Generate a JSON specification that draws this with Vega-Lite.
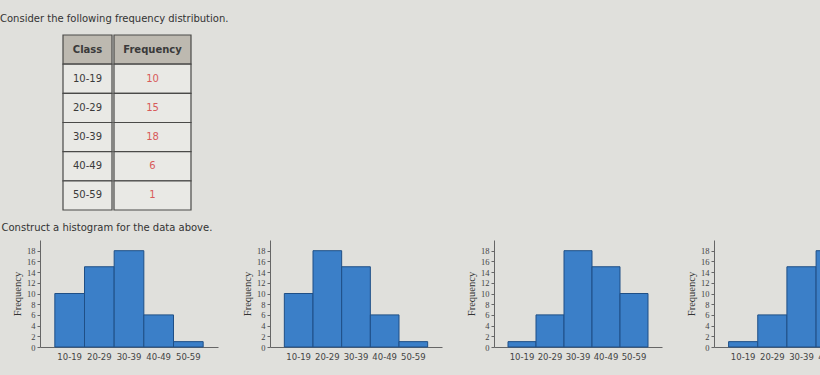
{
  "$schema": "https://vega.github.io/schema/vega-lite/v6.json",
  "background": "#e0e0dc",
  "padding": {"left": 0, "top": 14, "right": 0, "bottom": 24},
  "config": {
    "view": {"stroke": null},
    "title": {"font": "DejaVu Sans", "fontSize": 10, "fontWeight": "normal", "color": "#333333", "anchor": "start"},
    "axis": {"grid": false}
  },
  "datasets": {
    "table": [
      {"row": "header", "col": "Class", "label": "Class", "kind": "header"},
      {"row": "header", "col": "Frequency", "label": "Frequency", "kind": "header"},
      {"row": "r1", "col": "Class", "label": "10-19", "kind": "body"},
      {"row": "r1", "col": "Frequency", "label": "10", "kind": "body"},
      {"row": "r2", "col": "Class", "label": "20-29", "kind": "body"},
      {"row": "r2", "col": "Frequency", "label": "15", "kind": "body"},
      {"row": "r3", "col": "Class", "label": "30-39", "kind": "body"},
      {"row": "r3", "col": "Frequency", "label": "18", "kind": "body"},
      {"row": "r4", "col": "Class", "label": "40-49", "kind": "body"},
      {"row": "r4", "col": "Frequency", "label": "6", "kind": "body"},
      {"row": "r5", "col": "Class", "label": "50-59", "kind": "body"},
      {"row": "r5", "col": "Frequency", "label": "1", "kind": "body"}
    ],
    "hist": [
      {"option": 1, "cls": "10-19", "freq": 10},
      {"option": 1, "cls": "20-29", "freq": 15},
      {"option": 1, "cls": "30-39", "freq": 18},
      {"option": 1, "cls": "40-49", "freq": 6},
      {"option": 1, "cls": "50-59", "freq": 1},
      {"option": 2, "cls": "10-19", "freq": 10},
      {"option": 2, "cls": "20-29", "freq": 18},
      {"option": 2, "cls": "30-39", "freq": 15},
      {"option": 2, "cls": "40-49", "freq": 6},
      {"option": 2, "cls": "50-59", "freq": 1},
      {"option": 3, "cls": "10-19", "freq": 1},
      {"option": 3, "cls": "20-29", "freq": 6},
      {"option": 3, "cls": "30-39", "freq": 18},
      {"option": 3, "cls": "40-49", "freq": 15},
      {"option": 3, "cls": "50-59", "freq": 10},
      {"option": 4, "cls": "10-19", "freq": 1},
      {"option": 4, "cls": "20-29", "freq": 6},
      {"option": 4, "cls": "30-39", "freq": 15},
      {"option": 4, "cls": "40-49", "freq": 18},
      {"option": 4, "cls": "50-59", "freq": 10}
    ]
  },
  "columns": 1,
  "align": "none",
  "spacing": 12,
  "concat": [
    {
      "title": {"text": "Consider the following frequency distribution.", "dx": -40, "offset": 10},
      "spacing": 0,
      "hconcat": [
        {
          "width": 22, "height": 175,
          "data": {"name": "table"},
          "transform": [{"filter": "datum.row == 'header' && datum.col == 'Class'"}],
          "mark": {"type": "rect", "opacity": 0},
          "encoding": {}
        },
        {
          "width": 49, "height": 175,
          "data": {"name": "table"},
          "transform": [{"filter": "datum.col == 'Class'"}],
          "encoding": {
            "y": {"field": "row", "type": "nominal", "sort": ["header", "r1", "r2", "r3", "r4", "r5"], "scale": {"paddingInner": 0, "paddingOuter": 0}, "axis": null}
          },
          "layer": [
            {"mark": {"type": "rect", "stroke": "#4a4a48", "strokeWidth": 1.2},
             "encoding": {"fill": {"field": "kind", "type": "nominal", "scale": {"domain": ["header", "body"], "range": ["#bdb9b0", "#e9e9e5"]}, "legend": null}}},
            {"transform": [{"filter": "datum.kind == 'header'"}],
             "mark": {"type": "text", "font": "DejaVu Sans", "fontSize": 10, "fontWeight": "bold", "color": "#3a3a3a"},
             "encoding": {"text": {"field": "label"}}},
            {"transform": [{"filter": "datum.kind == 'body'"}],
             "mark": {"type": "text", "font": "DejaVu Sans", "fontSize": 10, "color": "#3a3a3a"},
             "encoding": {"text": {"field": "label"}}}
          ]
        },
        {
          "width": 77, "height": 175,
          "data": {"name": "table"},
          "transform": [{"filter": "datum.col == 'Frequency'"}],
          "encoding": {
            "y": {"field": "row", "type": "nominal", "sort": ["header", "r1", "r2", "r3", "r4", "r5"], "scale": {"paddingInner": 0, "paddingOuter": 0}, "axis": null}
          },
          "layer": [
            {"mark": {"type": "rect", "stroke": "#4a4a48", "strokeWidth": 1.2},
             "encoding": {"fill": {"field": "kind", "type": "nominal", "scale": {"domain": ["header", "body"], "range": ["#bdb9b0", "#e9e9e5"]}, "legend": null}}},
            {"transform": [{"filter": "datum.kind == 'header'"}],
             "mark": {"type": "text", "font": "DejaVu Sans", "fontSize": 10, "fontWeight": "bold", "color": "#3a3a3a"},
             "encoding": {"text": {"field": "label"}}},
            {"transform": [{"filter": "datum.kind == 'body'"}],
             "mark": {"type": "text", "font": "DejaVu Sans", "fontSize": 10, "color": "#d85a5a"},
             "encoding": {"text": {"field": "label"}}}
          ]
        }
      ]
    },
    {
      "title": {"text": "Construct a histogram for the data above.", "dx": -11, "offset": 7},
      "spacing": 24,
      "data": {"name": "hist"},
      "hconcat": [
        {
          "width": 178, "height": 107,
          "transform": [{"filter": "datum.option == 1"}],
          "mark": {"type": "bar", "fill": "#3b7fc8", "stroke": "#1f4f86", "strokeWidth": 1},
          "encoding": {
            "x": {"field": "cls", "type": "ordinal", "scale": {"paddingInner": 0, "paddingOuter": 0.5},
                  "axis": {"title": null, "labelAngle": 0, "ticks": false, "labelFont": "DejaVu Sans", "labelFontSize": 8.5, "labelColor": "#444444", "labelPadding": 5, "domainColor": "#666666"}},
            "y": {"field": "freq", "type": "quantitative", "scale": {"domain": [0, 20], "nice": false},
                  "axis": {"values": [0, 2, 4, 6, 8, 10, 12, 14, 16, 18], "title": "Frequency", "titleFont": "Liberation Serif", "titleFontSize": 10.5, "titleFontWeight": "normal", "titleColor": "#333333", "titlePadding": 4, "labelFont": "Liberation Serif", "labelFontSize": 8.5, "labelColor": "#444444", "labelPadding": 2, "tickSize": 3, "tickColor": "#666666", "domainColor": "#666666"}}
          }
        },
        {
          "width": 172, "height": 107,
          "transform": [{"filter": "datum.option == 2"}],
          "mark": {"type": "bar", "fill": "#3b7fc8", "stroke": "#1f4f86", "strokeWidth": 1},
          "encoding": {
            "x": {"field": "cls", "type": "ordinal", "scale": {"paddingInner": 0, "paddingOuter": 0.5},
                  "axis": {"title": null, "labelAngle": 0, "ticks": false, "labelFont": "DejaVu Sans", "labelFontSize": 8.5, "labelColor": "#444444", "labelPadding": 5, "domainColor": "#666666"}},
            "y": {"field": "freq", "type": "quantitative", "scale": {"domain": [0, 20], "nice": false},
                  "axis": {"values": [0, 2, 4, 6, 8, 10, 12, 14, 16, 18], "title": "Frequency", "titleFont": "Liberation Serif", "titleFontSize": 10.5, "titleFontWeight": "normal", "titleColor": "#333333", "titlePadding": 4, "labelFont": "Liberation Serif", "labelFontSize": 8.5, "labelColor": "#444444", "labelPadding": 2, "tickSize": 3, "tickColor": "#666666", "domainColor": "#666666"}}
          }
        },
        {
          "width": 168, "height": 107,
          "transform": [{"filter": "datum.option == 3"}],
          "mark": {"type": "bar", "fill": "#3b7fc8", "stroke": "#1f4f86", "strokeWidth": 1},
          "encoding": {
            "x": {"field": "cls", "type": "ordinal", "scale": {"paddingInner": 0, "paddingOuter": 0.5},
                  "axis": {"title": null, "labelAngle": 0, "ticks": false, "labelFont": "DejaVu Sans", "labelFontSize": 8.5, "labelColor": "#444444", "labelPadding": 5, "domainColor": "#666666"}},
            "y": {"field": "freq", "type": "quantitative", "scale": {"domain": [0, 20], "nice": false},
                  "axis": {"values": [0, 2, 4, 6, 8, 10, 12, 14, 16, 18], "title": "Frequency", "titleFont": "Liberation Serif", "titleFontSize": 10.5, "titleFontWeight": "normal", "titleColor": "#333333", "titlePadding": 4, "labelFont": "Liberation Serif", "labelFontSize": 8.5, "labelColor": "#444444", "labelPadding": 2, "tickSize": 3, "tickColor": "#666666", "domainColor": "#666666"}}
          }
        },
        {
          "width": 175, "height": 107,
          "transform": [{"filter": "datum.option == 4"}],
          "mark": {"type": "bar", "fill": "#3b7fc8", "stroke": "#1f4f86", "strokeWidth": 1},
          "encoding": {
            "x": {"field": "cls", "type": "ordinal", "scale": {"paddingInner": 0, "paddingOuter": 0.5},
                  "axis": {"title": null, "labelAngle": 0, "ticks": false, "labelFont": "DejaVu Sans", "labelFontSize": 8.5, "labelColor": "#444444", "labelPadding": 5, "domainColor": "#666666"}},
            "y": {"field": "freq", "type": "quantitative", "scale": {"domain": [0, 20], "nice": false},
                  "axis": {"values": [0, 2, 4, 6, 8, 10, 12, 14, 16, 18], "title": "Frequency", "titleFont": "Liberation Serif", "titleFontSize": 10.5, "titleFontWeight": "normal", "titleColor": "#333333", "titlePadding": 4, "labelFont": "Liberation Serif", "labelFontSize": 8.5, "labelColor": "#444444", "labelPadding": 2, "tickSize": 3, "tickColor": "#666666", "domainColor": "#666666"}}
          }
        }
      ]
    }
  ]
}
